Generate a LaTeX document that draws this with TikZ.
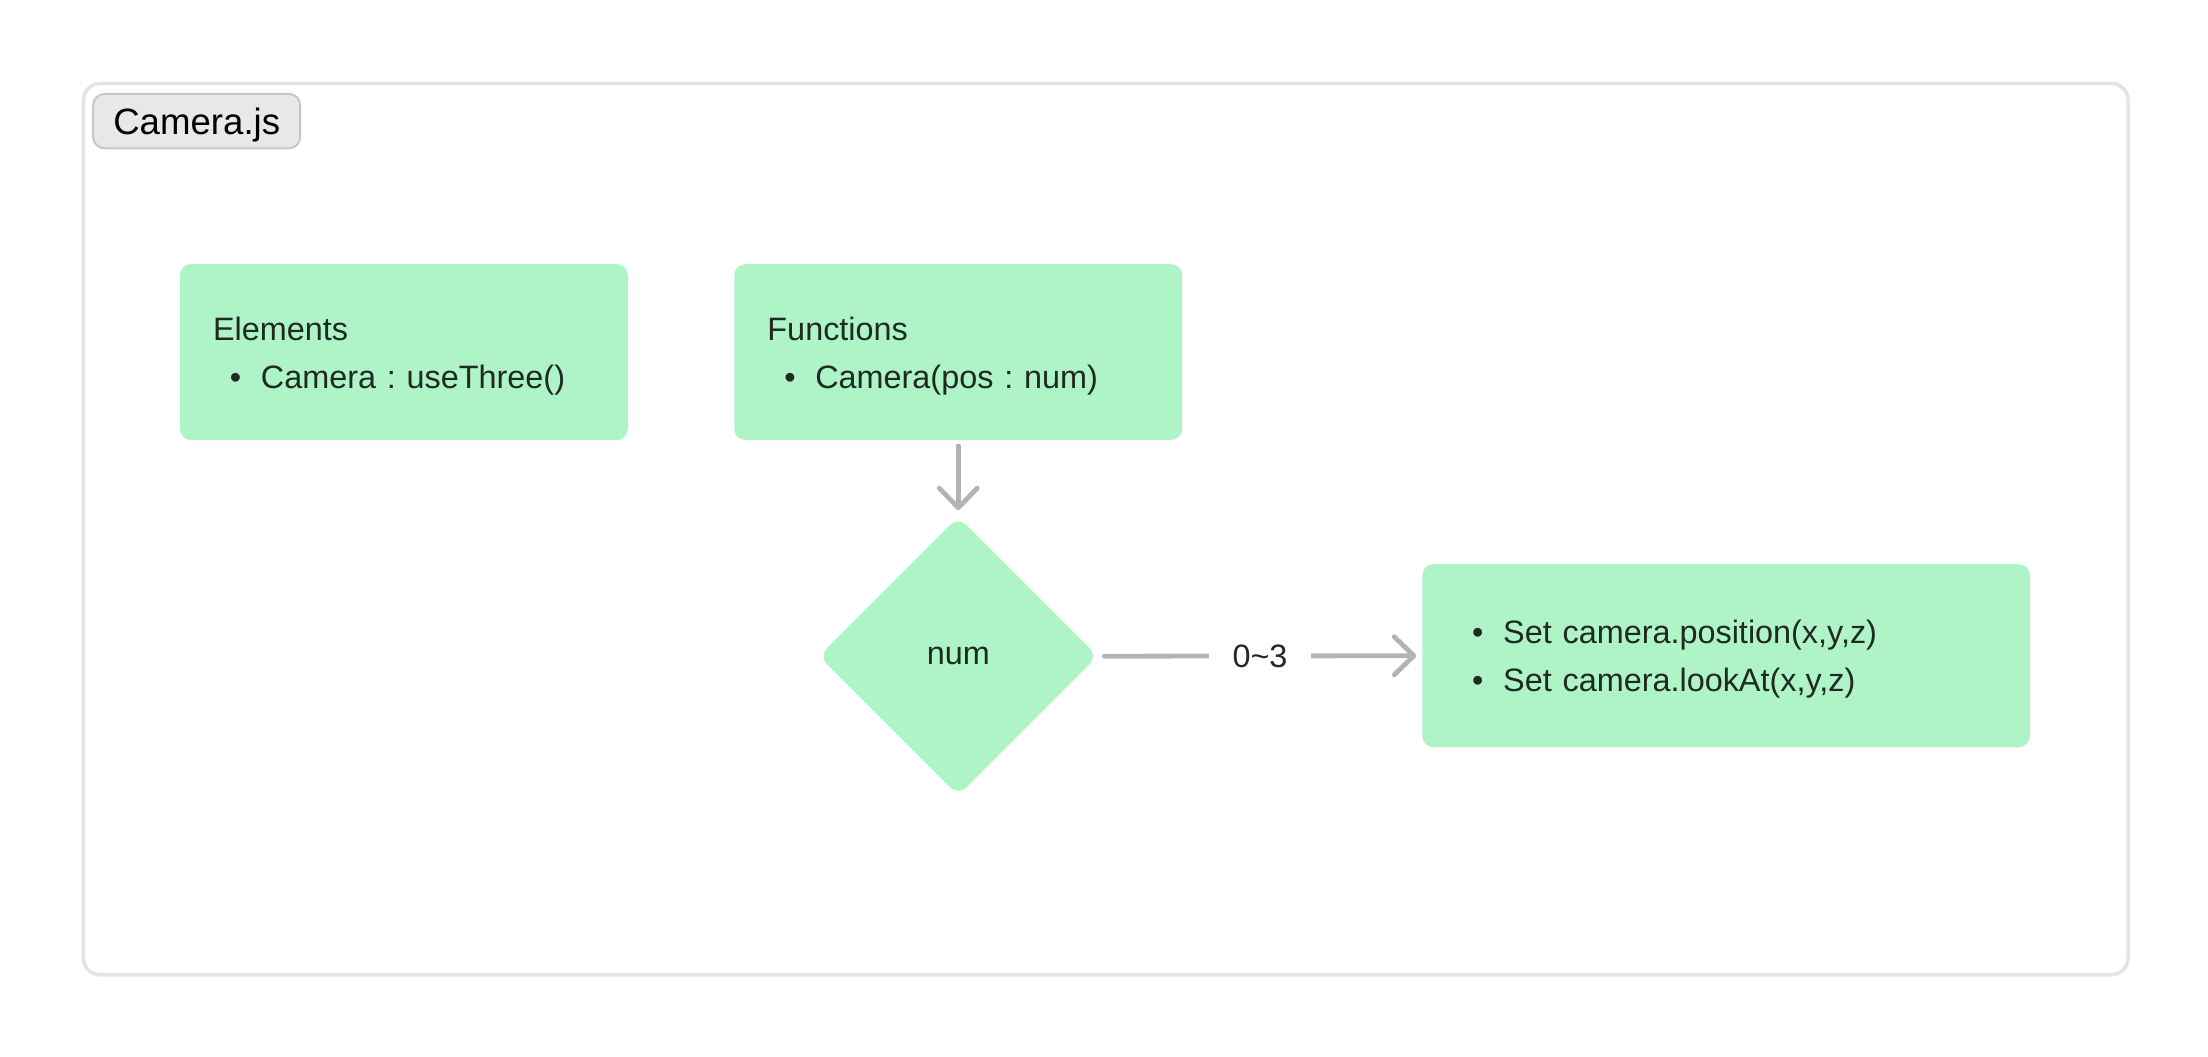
\documentclass[tikz,border=0pt]{standalone}
\usepackage{fontspec}
\setmainfont{Liberation Sans}
\usetikzlibrary{shapes.geometric,arrows.meta}
\definecolor{gfill}{HTML}{AFF4C6}
\definecolor{gtext}{HTML}{1E2A22}
\definecolor{framec}{HTML}{E4E4E4}
\definecolor{tagfill}{HTML}{E8E8E8}
\definecolor{tagdraw}{HTML}{C6C6C6}
\definecolor{arrc}{HTML}{B3B3B3}
\newcommand{\itm}[1]{\hspace*{12pt}\makebox[8pt]{\textbullet}\hspace{14pt}#1}
\frenchspacing
\begin{document}
\begin{tikzpicture}[x=1pt,y=-1pt,
  gbox/.style={fill=gfill, rounded corners=8pt, text=gtext, align=left,
    inner xsep=23.5pt, inner ysep=0pt,
    font=\fontsize{23}{34.2}\selectfont, text height=17pt, text depth=34pt},
  gdia/.style={diamond, fill=gfill, rounded corners=8pt, text=gtext, aspect=1,
    minimum width=198pt, minimum height=198pt, inner sep=0pt,
    font=\fontsize{23}{28}\selectfont, text height=12pt, text depth=0pt},
  conn/.style={draw=arrc, line width=3.4pt, line cap=round,
    -{Straight Barb[length=14pt,width=27pt,round]}},
  elabel/.style={fill=white, text=gtext, inner xsep=17pt, inner ysep=2pt,
    font=\fontsize{23}{28}\selectfont, text height=16.5pt, text depth=0pt}
]
\useasboundingbox (0,0) rectangle (1568,750);
\fill[white] (0,0) rectangle (1568,750);
\node[draw=framec, line width=2.5pt, rounded corners=12pt, inner sep=0pt,
  minimum width=1452pt, minimum height=633pt, anchor=north west] (frame) at (58,58) {};
\node[fill=tagfill, draw=tagdraw, line width=1.4pt, rounded corners=8pt, inner sep=0pt,
  minimum width=147pt, minimum height=38.6pt, anchor=north west,
  font=\fontsize{26}{30}\selectfont, text height=18.6pt, text depth=0pt] (tag) at (65.5,66) {Camera.js};

\node[gbox, minimum width=318pt, minimum height=125pt, text width=271pt] (elem) at (286.8,250)
  {Elements\\\itm{Camera : useThree()}};
\node[gbox, minimum width=318pt, minimum height=125pt, text width=271pt] (func) at (680.5,250)
  {Functions\\\itm{Camera(pos : num)}};
\node[gdia] (num) at (680.5,466) {num};
\node[gbox, minimum width=431.5pt, minimum height=130pt, text width=384.5pt] (set) at (1225.75,465.65)
  {\itm{Set camera.position(x,y,z)}\\\itm{Set camera.lookAt(x,y,z)}};

\draw[conn, shorten <=4pt, shorten >=4.5pt] (func.south) -- (num.north);
\draw[conn, shorten <=4.5pt, shorten >=4pt] (num.east) -- node[elabel] (lbl) {0\textasciitilde 3} (set.west);
\end{tikzpicture}
\end{document}
